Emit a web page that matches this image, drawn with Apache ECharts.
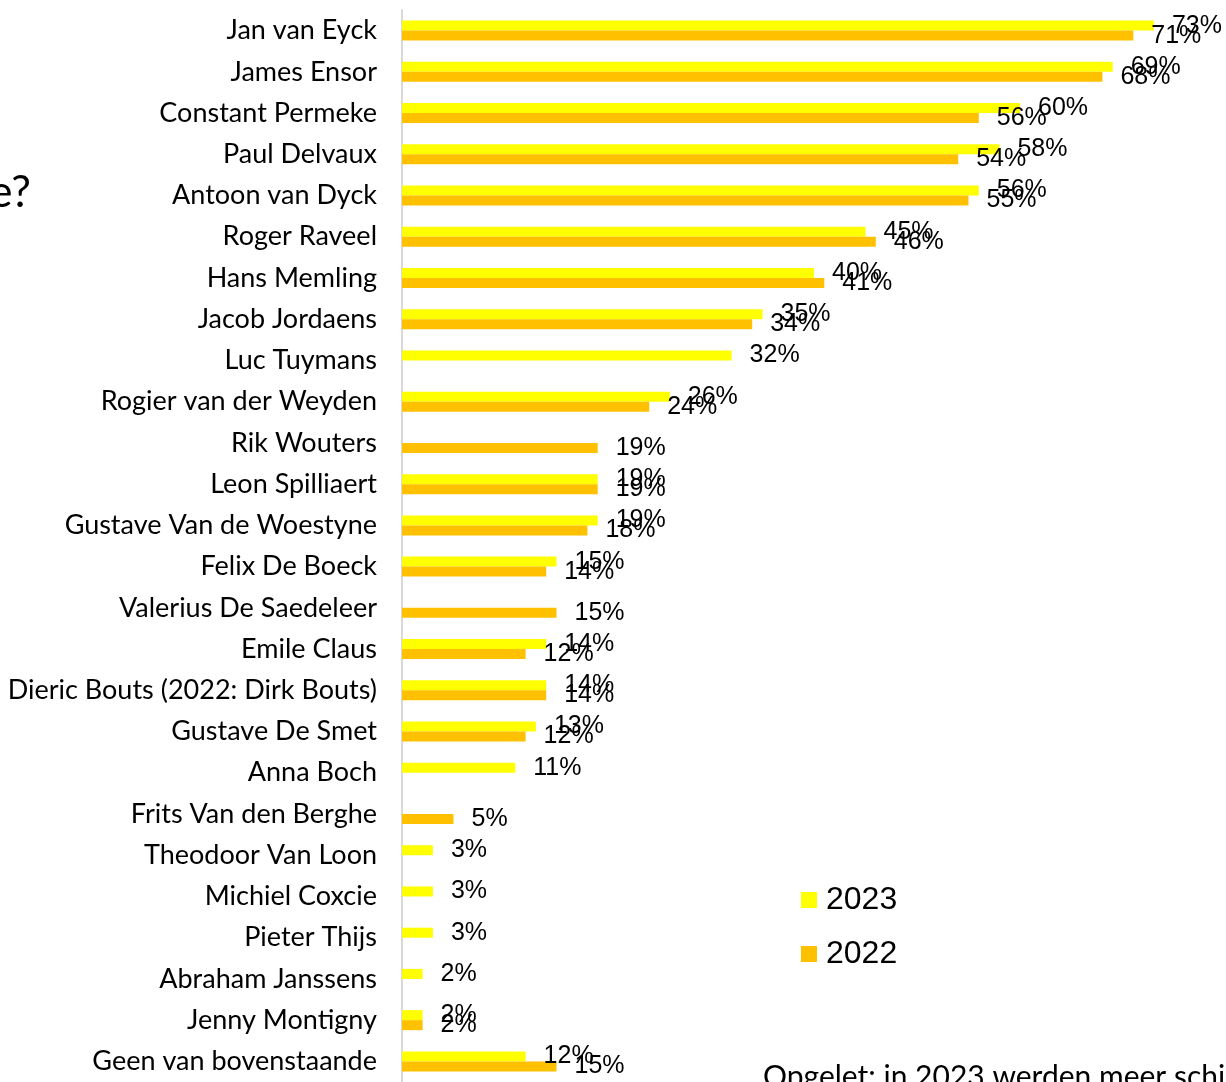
<!DOCTYPE html>
<html>
<head>
<meta charset="utf-8">
<title>Schilders</title>
<script src="https://cdn.jsdelivr.net/npm/echarts@6/dist/echarts.min.js"></script>
<style>
  html, body { margin: 0; padding: 0; background: #fff; }
  #chart { width: 1226px; height: 1082px; }
</style>
</head>
<body>
<div id="chart"></div>
<script>
// categorieën, van boven naar onder
const schilders = [
  'Jan van Eyck', 'James Ensor', 'Constant Permeke', 'Paul Delvaux', 'Antoon van Dyck',
  'Roger Raveel', 'Hans Memling', 'Jacob Jordaens', 'Luc Tuymans', 'Rogier van der Weyden',
  'Rik Wouters', 'Leon Spilliaert', 'Gustave Van de Woestyne', 'Felix De Boeck',
  'Valerius De Saedeleer', 'Emile Claus', 'Dieric Bouts (2022: Dirk Bouts)', 'Gustave De Smet',
  'Anna Boch', 'Frits Van den Berghe', 'Theodoor Van Loon', 'Michiel Coxcie', 'Pieter Thijs',
  'Abraham Janssens', 'Jenny Montigny', 'Geen van bovenstaande'
]
// percentages per jaar (null = niet bevraagd)
const waarden2023 = [73, 69, 60, 58, 56, 45, 40, 35, 32, 26, null, 19, 19, 15, null, 14, 14, 13, 11, null, 3, 3, 3, 2, 2, 12]
const waarden2022 = [71, 68, 56, 54, 55, 46, 41, 34, null, 24, 19, 19, 18, 14, 15, 12, 14, 12, null, 5, null, null, null, null, 2, 15]

const chart = echarts.init(document.getElementById('chart'))

const labelStyle = {
  show: true,
  position: 'right',
  distance: 18,
  formatter: '{c}%',
  fontFamily: 'Liberation Sans',
  fontSize: 25,
  color: '#000'
}

const option = {
  animation: false,
  backgroundColor: '#fff',
  grid: {
    left: 402,
    right: 0,
    top: 10,
    height: 1074
  },
  xAxis: {
    type: 'value',
    min: 0,
    max: 80,
    show: false
  },
  yAxis: {
    type: 'category',
    inverse: true,
    data: schilders,
    axisLine: { lineStyle: { color: '#d9d9d9', width: 2 } },
    axisTick: { length: 5, lineStyle: { color: '#d9d9d9', width: 2 } },
    axisLabel: {
      margin: 25,
      fontFamily: 'Lato',
      fontSize: 27,
      color: '#000'
    }
  },
  legend: {
    orient: 'vertical',
    left: 801,
    top: 884,
    padding: 0,
    itemGap: 22,
    itemWidth: 16,
    itemHeight: 16,
    icon: 'rect',
    textStyle: {
      fontFamily: 'Liberation Sans',
      fontSize: 32,
      lineHeight: 31,
      color: '#000',
      padding: [0, 0, 0, 4]
    },
    data: ['2023', '2022']
  },
  series: [
    {
      name: '2023',
      type: 'bar',
      data: waarden2023,
      barWidth: 10,
      barGap: '0%',
      itemStyle: { color: '#ffff00' },
      label: labelStyle
    },
    {
      name: '2022',
      type: 'bar',
      data: waarden2022,
      barWidth: 10,
      barGap: '0%',
      itemStyle: { color: '#ffc000' },
      label: labelStyle
    }
  ],
  // afgesneden titel links en opmerking onderaan
  graphic: [
    {
      type: 'text',
      x: 31,
      y: 193,
      style: {
        text: 'e?',
        fontFamily: 'Lato',
        fontSize: 44,
        fill: '#000',
        align: 'right',
        verticalAlign: 'middle'
      }
    },
    {
      type: 'text',
      x: 763,
      y: 1077,
      style: {
        text: 'Opgelet: in 2023 werden meer schilders bevraagd',
        fontFamily: 'Lato',
        fontSize: 30,
        fill: '#000',
        align: 'left',
        verticalAlign: 'middle'
      }
    }
  ]
}

chart.setOption(option)
</script>
</body>
</html>
